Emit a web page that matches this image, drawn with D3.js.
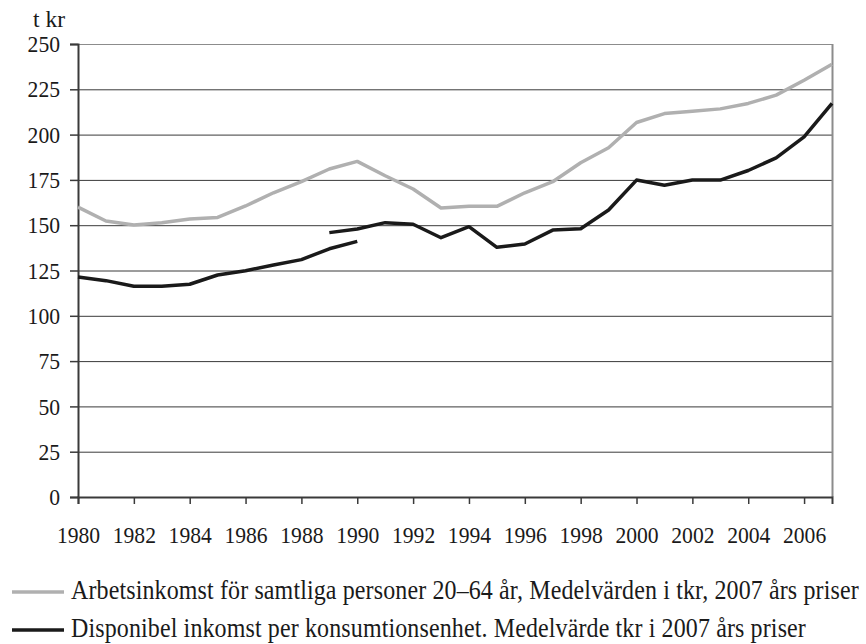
<!doctype html>
<html>
  <head>
    <meta charset="utf-8">
    <script src="https://cdn.jsdelivr.net/npm/d3@7/dist/d3.min.js"></script>
    <style>
      body { margin: 0; background: #fff; }
    </style>
  </head>
  <body>
    <svg id="chart" width="866" height="644"></svg>
    <script>
      // data
      const years = d3.range(1980, 2008);
      const arbetsinkomst = [160, 152.3, 150.1, 151.4, 153.4, 154.3, 160.6, 167.9, 174, 181,
        185.2, 177.3, 170, 159.5, 160.4, 160.4, 167.9, 174, 184.5, 192.7,
        206.7, 211.6, 212.9, 214.2, 217.2, 221.8, 230, 238.8];
      const dispOldYears = d3.range(1980, 1991);
      const dispOld = [121.4, 119.4, 116.3, 116.3, 117.4, 122.5, 124.9, 128, 131, 137, 141.1];
      const dispNewYears = d3.range(1989, 2008);
      const dispNew = [145.9, 147.9, 151.4, 150.5, 143.1, 149.2, 137.8, 139.6, 147.3, 148,
        158.4, 174.9, 172, 174.9, 174.9, 180.2, 187.2, 198.8, 217.2];
      const yTicks = [0, 25, 50, 75, 100, 125, 150, 175, 200, 225, 250];
      const xTicks = d3.range(1980, 2008, 2);
      const legendLabels = [
        "Arbetsinkomst för samtliga personer 20–64 år, Medelvärden i tkr, 2007 års priser",
        "Disponibel inkomst per konsumtionsenhet. Medelvärde tkr i 2007 års priser"
      ];
      const grey = "#b0b0b0", black = "#1a1a1a";
      const serif = "'Liberation Serif', 'Times New Roman', 'DejaVu Serif', serif";
      const digitW = 10.8;

      const svg = d3.select("#chart");
      const plotL = 78, plotR = 832, plotT = 44, plotB = 497;

      const x = d3.scaleLinear().domain([1980, 2007]).range([plotL, plotR]);
      const y = d3.scaleLinear().domain([0, 250]).range([plotB, plotT]);

      // gridlines
      svg.append("g")
        .selectAll("line")
        .data(yTicks.filter(t => t > 0))
        .enter()
        .append("line")
        .attr("x1", plotL).attr("x2", plotR)
        .attr("y1", d => y(d) + 0.5).attr("y2", d => y(d) + 0.5)
        .style("stroke", d => d === 250 ? "#8c8c8c" : "#3a3a3a")
        .style("stroke-width", "1px");

      // right border
      svg.append("line")
        .attr("x1", plotR + 0.5).attr("x2", plotR + 0.5)
        .attr("y1", plotT).attr("y2", plotB)
        .style("stroke", "#8c8c8c").style("stroke-width", "2px");

      // y axis
      const yAxis = svg.append("g")
        .attr("transform", "translate(" + plotL + ",0)")
        .call(d3.axisLeft(y).tickValues(yTicks).tickSize(8).tickPadding(10));
      yAxis.attr("font-family", serif);
      yAxis.select(".domain").attr("stroke", "#3a3a3a").attr("stroke-width", 2);
      yAxis.selectAll(".tick line").attr("stroke", "#3a3a3a").attr("stroke-width", 1.5);
      yAxis.selectAll("text")
        .style("font-family", serif).style("font-size", "24px").attr("fill", "#1a1a1a")
        .attr("textLength", d => String(d).length * digitW)
        .attr("lengthAdjust", "spacingAndGlyphs");

      // x axis
      const xAxis = svg.append("g")
        .attr("transform", "translate(0," + plotB + ")")
        .call(d3.axisBottom(x).tickValues(xTicks).tickFormat(d3.format("d")).tickSize(7));
      xAxis.attr("font-family", serif);
      xAxis.select(".domain").attr("stroke", "#3a3a3a").attr("stroke-width", 2);
      xAxis.selectAll(".tick line").attr("stroke", "#3a3a3a").attr("stroke-width", 1.5);
      xAxis.selectAll("text")
        .attr("y", 46).attr("dy", null)
        .style("font-family", serif).style("font-size", "24px").attr("fill", "#1a1a1a")
        .attr("textLength", d => String(d).length * digitW)
        .attr("lengthAdjust", "spacingAndGlyphs");

      svg.append("text")
        .attr("x", 33).attr("y", 27)
        .attr("textLength", 32).attr("lengthAdjust", "spacingAndGlyphs")
        .style("font-family", serif)
        .style("font-size", "24px")
        .style("fill", "#1a1a1a")
        .text("t kr");

      const line = d3.line().x(d => x(d[0])).y(d => y(d[1]));
      const series = [
        { pts: d3.zip(years, arbetsinkomst), color: grey },
        { pts: d3.zip(dispOldYears, dispOld), color: black },
        { pts: d3.zip(dispNewYears, dispNew), color: black }
      ];
      svg.append("g")
        .selectAll("path")
        .data(series)
        .enter()
        .append("path")
        .attr("d", d => line(d.pts))
        .style("fill", "none")
        .style("stroke", d => d.color)
        .style("stroke-width", "3.5px")
        .style("stroke-linejoin", "round");

      // legend
      const legend = svg.append("g")
        .selectAll("g")
        .data(legendLabels)
        .enter()
        .append("g")
        .attr("transform", (d, i) => "translate(12," + (592 + i * 38) + ")");
      legend.append("line")
        .attr("x1", 0).attr("x2", 52)
        .style("stroke", (d, i) => i === 0 ? grey : black)
        .style("stroke-width", "3.5px");
      legend.append("text")
        .attr("transform", "translate(59,7) scale(1,1.12)")
        .style("font-family", serif)
        .style("font-size", "24px")
        .style("letter-spacing", "0.12px")
        .style("fill", "#1a1a1a")
        .text(d => d);
    </script>
  </body>
</html>
